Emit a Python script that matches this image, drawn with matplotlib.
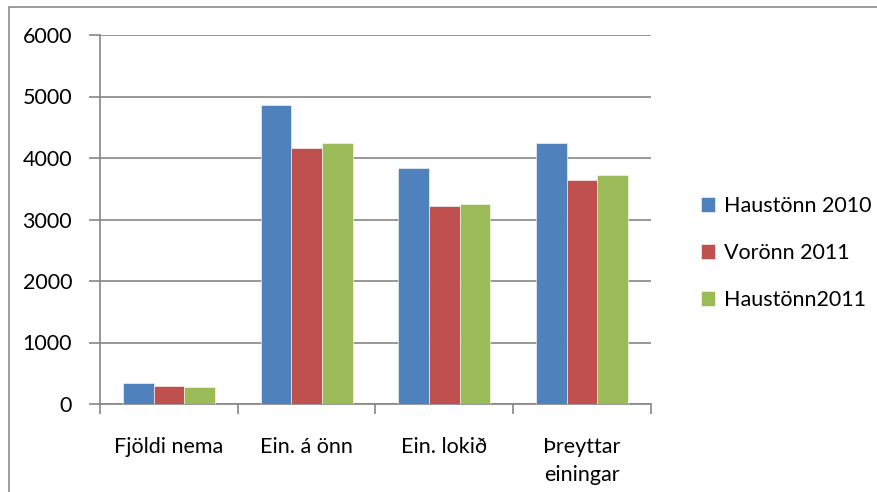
import matplotlib
matplotlib.use("Agg")
import matplotlib.pyplot as plt
import numpy as np
from matplotlib.patches import Rectangle

categories = ["Fjöldi nema", "Ein. á önn", "Ein. lokið", "Þreyttar\neiningar"]
series_names = ["Haustönn 2010", "Vorönn 2011", "Haustönn2011"]
haust2010 = [335, 4860, 3830, 4240]
vor2011 = [285, 4160, 3220, 3650]
haust2011 = [280, 4240, 3250, 3720]
yticks = [0, 1000, 2000, 3000, 4000, 5000, 6000]

colors = ["#4F81BD", "#C0504D", "#9BBB59"]
grey = "#868686"

plt.rcParams['font.family'] = ['Lato', 'DejaVu Sans']
fs = 15.5

W, H = 878, 492
fig = plt.figure(figsize=(W / 100, H / 100), dpi=100)
ax = fig.add_axes([100 / W, 88 / H, 551 / W, 369 / H])

# chart border (right and bottom edges are cut off in the reference)
fig.patches.append(Rectangle((9 / W, -0.1), 1.2, (H - 7) / H + 0.1,
                             transform=fig.transFigure, fill=False,
                             edgecolor="#8c8c8c", linewidth=1.2))

x = np.arange(len(categories))
w = 1 / 4.5
for i, (vals, name) in enumerate(zip([haust2010, vor2011, haust2011], series_names)):
    ax.bar(x + (i - 1) * w, vals, width=w, color=colors[i], label=name,
           edgecolor="white", linewidth=0.4, zorder=3)

ax.set_xlim(-0.5, len(categories) - 0.5)
ax.set_ylim(0, 6000)
ax.set_yticks(yticks)
ax.set_yticklabels([str(v) for v in yticks], fontsize=fs)
ax.yaxis.grid(True, color=grey, linewidth=1.2, zorder=0)
ax.set_axisbelow(True)

ax.set_xticks(x)
ax.set_xticklabels(categories, fontsize=fs, linespacing=1.45)
ax.set_xticks(np.arange(len(categories) + 1) - 0.5, minor=True)
ax.tick_params(axis="x", which="major", length=0, pad=24)
ax.tick_params(axis="x", which="minor", length=7, color=grey, width=1.2)
ax.tick_params(axis="y", length=8, color=grey, width=1.2, pad=12)

for s in ["top", "right"]:
    ax.spines[s].set_visible(False)
for s in ["left", "bottom"]:
    ax.spines[s].set_color(grey)
    ax.spines[s].set_linewidth(1.2)

ax.legend(loc="center left", bbox_to_anchor=(682 / W, 239 / H),
          bbox_transform=fig.transFigure, frameon=False, fontsize=fs,
          handlelength=0.65, handleheight=0.65, handletextpad=0.4,
          labelspacing=1.25)

fig.savefig("out.png", dpi=100)
